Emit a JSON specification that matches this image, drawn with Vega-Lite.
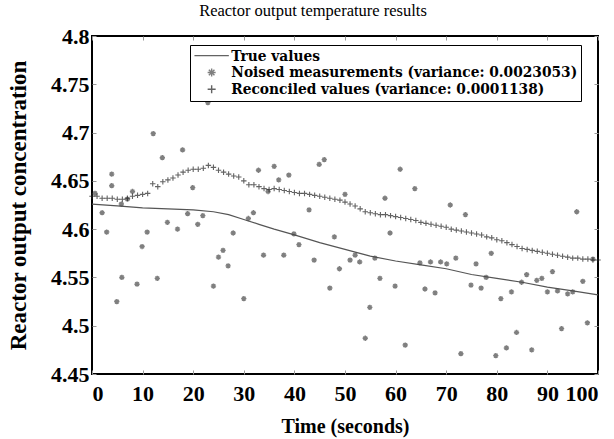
{
  "$schema": "https://vega.github.io/schema/vega-lite/v6.json",
  "width": 506,
  "height": 338,
  "autosize": {"type": "none"},
  "padding": {"left": 92, "top": 36, "right": 16, "bottom": 65},
  "background": "white",
  "title": {"text": "Reactor output temperature results", "font": "Liberation Serif", "fontSize": 16.5, "fontWeight": "normal", "color": "black", "dx": -32, "offset": 6},
  "config": {
    "view": {"stroke": "black", "strokeWidth": 2},
    "axis": {"grid": false, "domain": false, "labelFont": "Liberation Serif", "labelFontWeight": "bold", "labelFontSize": 22, "labelColor": "black", "titleFont": "Liberation Serif", "titleFontWeight": "bold", "titleColor": "black", "tickColor": "#999", "tickSize": -4, "tickWidth": 1}
  },
  "datasets": {
    "truth": [
      {"t": 0, "v": 4.626}, {"t": 5, "v": 4.624}, {"t": 10, "v": 4.622}, {"t": 15, "v": 4.621}, {"t": 20, "v": 4.620}, {"t": 24, "v": 4.618}, {"t": 27, "v": 4.615}, {"t": 30, "v": 4.610}, {"t": 33, "v": 4.605}, {"t": 36, "v": 4.600}, {"t": 40, "v": 4.594}, {"t": 45, "v": 4.586}, {"t": 50, "v": 4.579}, {"t": 55, "v": 4.572}, {"t": 60, "v": 4.567}, {"t": 65, "v": 4.563}, {"t": 70, "v": 4.559}, {"t": 75, "v": 4.553}, {"t": 80, "v": 4.549}, {"t": 85, "v": 4.545}, {"t": 90, "v": 4.540}, {"t": 95, "v": 4.536}, {"t": 100, "v": 4.532}
    ],
    "meas": [
      {"t": 0.6, "v": 4.637}, {"t": 2.0, "v": 4.617}, {"t": 2.9, "v": 4.597}, {"t": 3.9, "v": 4.657}, {"t": 3.9, "v": 4.645}, {"t": 4.9, "v": 4.525}, {"t": 5.8, "v": 4.626}, {"t": 5.9, "v": 4.550}, {"t": 7.0, "v": 4.631}, {"t": 8.0, "v": 4.639}, {"t": 8.9, "v": 4.543}, {"t": 9.9, "v": 4.582}, {"t": 10.9, "v": 4.597}, {"t": 12.1, "v": 4.699}, {"t": 12.9, "v": 4.549}, {"t": 13.9, "v": 4.674}, {"t": 14.9, "v": 4.607}, {"t": 16.9, "v": 4.600}, {"t": 17.9, "v": 4.682}, {"t": 18.9, "v": 4.616}, {"t": 19.9, "v": 4.643}, {"t": 20.9, "v": 4.605}, {"t": 21.9, "v": 4.614}, {"t": 22.9, "v": 4.731}, {"t": 24.0, "v": 4.541}, {"t": 25.0, "v": 4.571}, {"t": 25.9, "v": 4.578}, {"t": 26.9, "v": 4.562}, {"t": 27.9, "v": 4.596}, {"t": 30.0, "v": 4.528}, {"t": 30.9, "v": 4.611}, {"t": 31.9, "v": 4.617}, {"t": 32.9, "v": 4.661}, {"t": 33.9, "v": 4.573}, {"t": 34.8, "v": 4.639}, {"t": 36.0, "v": 4.665}, {"t": 36.9, "v": 4.651}, {"t": 37.9, "v": 4.573}, {"t": 38.9, "v": 4.656}, {"t": 39.9, "v": 4.595}, {"t": 40.9, "v": 4.584}, {"t": 42.9, "v": 4.620}, {"t": 43.9, "v": 4.568}, {"t": 44.9, "v": 4.667}, {"t": 45.9, "v": 4.672}, {"t": 47.0, "v": 4.539}, {"t": 47.9, "v": 4.592}, {"t": 48.9, "v": 4.559}, {"t": 50.0, "v": 4.636}, {"t": 51.0, "v": 4.568}, {"t": 52.0, "v": 4.573}, {"t": 52.9, "v": 4.566}, {"t": 54.0, "v": 4.487}, {"t": 54.9, "v": 4.519}, {"t": 55.9, "v": 4.570}, {"t": 56.9, "v": 4.549}, {"t": 57.9, "v": 4.632}, {"t": 58.9, "v": 4.596}, {"t": 59.9, "v": 4.541}, {"t": 60.9, "v": 4.662}, {"t": 61.9, "v": 4.480}, {"t": 63.8, "v": 4.642}, {"t": 64.8, "v": 4.565}, {"t": 65.8, "v": 4.538}, {"t": 66.9, "v": 4.566}, {"t": 67.8, "v": 4.534}, {"t": 68.9, "v": 4.566}, {"t": 70.1, "v": 4.564}, {"t": 70.8, "v": 4.625}, {"t": 71.9, "v": 4.570}, {"t": 72.9, "v": 4.471}, {"t": 73.8, "v": 4.615}, {"t": 74.9, "v": 4.542}, {"t": 75.9, "v": 4.564}, {"t": 76.9, "v": 4.539}, {"t": 77.9, "v": 4.550}, {"t": 78.9, "v": 4.575}, {"t": 79.8, "v": 4.469}, {"t": 80.8, "v": 4.528}, {"t": 81.9, "v": 4.477}, {"t": 82.9, "v": 4.535}, {"t": 83.9, "v": 4.493}, {"t": 84.9, "v": 4.545}, {"t": 85.9, "v": 4.553}, {"t": 86.9, "v": 4.475}, {"t": 87.9, "v": 4.547}, {"t": 88.9, "v": 4.549}, {"t": 90.0, "v": 4.535}, {"t": 91.0, "v": 4.556}, {"t": 92.0, "v": 4.536}, {"t": 92.8, "v": 4.497}, {"t": 94.0, "v": 4.533}, {"t": 95.0, "v": 4.535}, {"t": 95.8, "v": 4.618}, {"t": 97.0, "v": 4.546}, {"t": 97.9, "v": 4.503}, {"t": 99.0, "v": 4.569}
    ],
    "rec": [
      {"t": 0, "v": 4.634}, {"t": 1, "v": 4.634}, {"t": 2, "v": 4.632}, {"t": 3, "v": 4.632}, {"t": 4, "v": 4.632}, {"t": 5, "v": 4.631}, {"t": 6, "v": 4.631}, {"t": 7, "v": 4.632}, {"t": 8, "v": 4.634}, {"t": 9, "v": 4.635}, {"t": 10, "v": 4.636}, {"t": 11, "v": 4.637}, {"t": 12, "v": 4.647}, {"t": 13, "v": 4.644}, {"t": 14, "v": 4.649}, {"t": 15, "v": 4.651}, {"t": 16, "v": 4.653}, {"t": 17, "v": 4.656}, {"t": 18, "v": 4.659}, {"t": 19, "v": 4.661}, {"t": 20, "v": 4.662}, {"t": 21, "v": 4.662}, {"t": 22, "v": 4.663}, {"t": 23, "v": 4.666}, {"t": 24, "v": 4.664}, {"t": 25, "v": 4.661}, {"t": 26, "v": 4.659}, {"t": 27, "v": 4.657}, {"t": 28, "v": 4.655}, {"t": 29, "v": 4.654}, {"t": 30, "v": 4.650}, {"t": 31, "v": 4.646}, {"t": 32, "v": 4.646}, {"t": 33, "v": 4.644}, {"t": 34, "v": 4.642}, {"t": 35, "v": 4.641}, {"t": 36, "v": 4.642}, {"t": 37, "v": 4.641}, {"t": 38, "v": 4.640}, {"t": 39, "v": 4.639}, {"t": 40, "v": 4.638}, {"t": 41, "v": 4.637}, {"t": 42, "v": 4.637}, {"t": 43, "v": 4.636}, {"t": 44, "v": 4.635}, {"t": 45, "v": 4.634}, {"t": 46, "v": 4.633}, {"t": 47, "v": 4.632}, {"t": 48, "v": 4.631}, {"t": 49, "v": 4.630}, {"t": 50, "v": 4.628}, {"t": 51, "v": 4.626}, {"t": 52, "v": 4.624}, {"t": 53, "v": 4.621}, {"t": 54, "v": 4.618}, {"t": 55, "v": 4.617}, {"t": 56, "v": 4.616}, {"t": 57, "v": 4.615}, {"t": 58, "v": 4.615}, {"t": 59, "v": 4.614}, {"t": 60, "v": 4.613}, {"t": 61, "v": 4.612}, {"t": 62, "v": 4.611}, {"t": 63, "v": 4.610}, {"t": 64, "v": 4.609}, {"t": 65, "v": 4.607}, {"t": 66, "v": 4.606}, {"t": 67, "v": 4.605}, {"t": 68, "v": 4.604}, {"t": 69, "v": 4.603}, {"t": 70, "v": 4.602}, {"t": 71, "v": 4.600}, {"t": 72, "v": 4.599}, {"t": 73, "v": 4.598}, {"t": 74, "v": 4.597}, {"t": 75, "v": 4.596}, {"t": 76, "v": 4.595}, {"t": 77, "v": 4.594}, {"t": 78, "v": 4.592}, {"t": 79, "v": 4.591}, {"t": 80, "v": 4.589}, {"t": 81, "v": 4.588}, {"t": 82, "v": 4.586}, {"t": 83, "v": 4.584}, {"t": 84, "v": 4.582}, {"t": 85, "v": 4.580}, {"t": 86, "v": 4.579}, {"t": 87, "v": 4.578}, {"t": 88, "v": 4.577}, {"t": 89, "v": 4.576}, {"t": 90, "v": 4.575}, {"t": 91, "v": 4.574}, {"t": 92, "v": 4.573}, {"t": 93, "v": 4.572}, {"t": 94, "v": 4.571}, {"t": 95, "v": 4.570}, {"t": 96, "v": 4.570}, {"t": 97, "v": 4.569}, {"t": 98, "v": 4.569}, {"t": 99, "v": 4.568}, {"t": 100, "v": 4.568}
    ]
  },
  "layer": [
    {
      "data": {"name": "truth"},
      "mark": {"type": "line", "color": "#555", "strokeWidth": 1.2},
      "encoding": {
        "x": {"field": "t", "type": "quantitative", "scale": {"domain": [0, 100], "nice": false}, "axis": {"orient": "bottom", "values": [0, 10, 20, 30, 40, 50, 60, 70, 80, 90, 100], "title": "Time (seconds)", "titleFontSize": 20, "labelPadding": 13, "titlePadding": 12}},
        "y": {"field": "v", "type": "quantitative", "scale": {"domain": [4.45, 4.8], "nice": false, "zero": false}, "axis": {"orient": "left", "values": [4.45, 4.5, 4.55, 4.6, 4.65, 4.7, 4.75, 4.8], "format": "~g", "title": "Reactor output concentration", "titleFontSize": 23, "labelPadding": 7, "titlePadding": 20}}
      }
    },
    {
      "data": {"name": "meas"},
      "mark": {"type": "point", "filled": false, "size": 28, "strokeWidth": 1.4},
      "encoding": {
        "x": {"field": "t", "type": "quantitative", "axis": {"orient": "top", "values": [0, 10, 20, 30, 40, 50, 60, 70, 80, 90, 100], "labels": false, "title": null}},
        "y": {"field": "v", "type": "quantitative", "axis": {"orient": "right", "values": [4.45, 4.5, 4.55, 4.6, 4.65, 4.7, 4.75, 4.8], "labels": false, "title": null}},
        "shape": {"datum": "Noised measurements (variance: 0.0023053)", "type": "nominal",
          "scale": {"domain": ["True values", "Noised measurements (variance: 0.0023053)", "Reconciled values (variance: 0.0001138)"],
                    "range": ["M-4.3,0L4.3,0", "M-1,0L1,0M0,-1L0,1M-0.7,-0.7L0.7,0.7M-0.7,0.7L0.7,-0.7", "M-1,0L1,0M0,-1L0,1"]},
          "legend": {"orient": "none", "legendX": 98, "legendY": 9, "title": null, "strokeColor": "black", "fillColor": "white", "padding": 3, "labelFont": "DejaVu Serif Condensed, Liberation Serif", "labelFontWeight": "bold", "labelFontSize": 15.3, "labelColor": "black", "labelLimit": 600, "symbolSize": 64, "symbolStrokeWidth": 1.4, "rowPadding": 0.8, "symbolOffset": 11, "labelOffset": 12,
            "encode": {"legend": {"strokeWidth": {"value": 2}}}}},
        "color": {"datum": "Noised measurements (variance: 0.0023053)", "type": "nominal",
          "scale": {"domain": ["True values", "Noised measurements (variance: 0.0023053)", "Reconciled values (variance: 0.0001138)"], "range": ["#222", "#4a4a4a", "#222"]}}
      }
    },
    {
      "data": {"name": "rec"},
      "mark": {"type": "point", "filled": false, "size": 30, "strokeWidth": 1.1},
      "encoding": {
        "x": {"field": "t", "type": "quantitative", "axis": null},
        "y": {"field": "v", "type": "quantitative", "axis": null},
        "shape": {"datum": "Reconciled values (variance: 0.0001138)", "type": "nominal"},
        "color": {"datum": "Reconciled values (variance: 0.0001138)", "type": "nominal"}
      }
    }
  ],
  "resolve": {"axis": {"x": "independent", "y": "independent"}}
}
